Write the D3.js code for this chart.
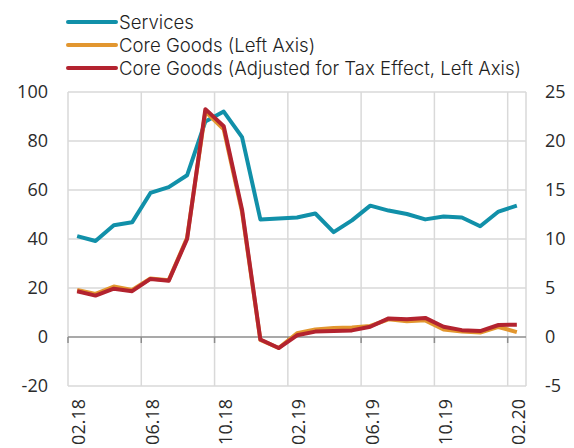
<!DOCTYPE html>
<html>
<head>
<meta charset="utf-8">
<script src="https://cdn.jsdelivr.net/npm/d3@7"></script>
<style>
  body { margin: 0; background: #fff; }
  svg text { font-family: "Open Sans", "Noto Sans", sans-serif; fill: #2b2b2b; }
  svg text.leg { font-family: Inter, Roboto, sans-serif; font-weight: 300; fill: #1f1f1f; }
</style>
</head>
<body>
<svg id="chart" width="574" height="448"></svg>
<script>
// monthly categories 02.18 .. 02.20
const months = ["02.18","03.18","04.18","05.18","06.18","07.18","08.18","09.18","10.18","11.18","12.18","01.19",
  "02.19","03.19","04.19","05.19","06.19","07.19","08.19","09.19","10.19","11.19","12.19","01.20","02.20"];
const tickMonths = ["02.18","06.18","10.18","02.19","06.19","10.19","02.20"];

// right axis
const services = [10.3, 9.8, 11.4, 11.7, 14.7, 15.3, 16.5, 22.0, 23.0, 20.4, 12.0, 12.1,
  12.2, 12.6, 10.7, 11.9, 13.4, 12.9, 12.55, 12.0, 12.3, 12.2, 11.3, 12.8, 13.4];
// left axis
const coreGoods = [19.2, 17.6, 20.6, 19.2, 23.9, 23.2, 40.5, 92.0, 84.8, 51.0, -1.2, -4.5,
  1.5, 3.1, 3.7, 3.9, 4.5, 7.2, 6.4, 6.8, 3.1, 2.2, 1.8, 4.1, 2.0];
const coreGoodsAdj = [18.7, 16.9, 19.7, 18.7, 23.7, 23.0, 40.0, 93.0, 86.0, 52.0, -1.0, -4.5,
  0.7, 2.2, 2.4, 2.7, 4.2, 7.6, 7.2, 7.8, 4.2, 2.8, 2.4, 4.9, 5.0];

const leftTicks = [-20, 0, 20, 40, 60, 80, 100];
const rightTicks = [-5, 0, 5, 10, 15, 20, 25];

const series = [
  { name: "Services", values: services, axis: "right", color: "#1190a9" },
  { name: "Core Goods (Left Axis)", values: coreGoods, axis: "left", color: "#e2962f" },
  { name: "Core Goods (Adjusted for Tax Effect, Left Axis)", values: coreGoodsAdj, axis: "left", color: "#b3232f" }
];

const svg = d3.select("#chart");
const plot = { left: 68, right: 526, top: 92, bottom: 386 };

const x = d3.scaleBand().domain(months).range([plot.left, plot.right]);
const yL = d3.scaleLinear().domain([-20, 100]).range([plot.bottom, plot.top]);
const yR = d3.scaleLinear().domain([-5, 25]).range([plot.bottom, plot.top]);

const grid = svg.append("g");

// horizontal gridlines
grid.selectAll("line.h").data(leftTicks.filter(d => d !== 0)).join("line")
  .attr("x1", plot.left).attr("x2", plot.right)
  .attr("y1", d => yL(d)).attr("y2", d => yL(d))
  .attr("stroke", "#d9d9d9").attr("stroke-width", 1.5);

// vertical gridlines at band boundaries every 4 months + right edge
const vIdx = [0, 4, 8, 12, 16, 20, 24];
const vx = vIdx.map(i => x(months[i])).concat([plot.right]);
grid.selectAll("line.v").data(vx).join("line")
  .attr("x1", d => d).attr("x2", d => d)
  .attr("y1", plot.top).attr("y2", plot.bottom)
  .attr("stroke", "#d9d9d9").attr("stroke-width", 1.5);

// zero axis with tick marks
grid.append("line")
  .attr("x1", plot.left).attr("x2", plot.right)
  .attr("y1", yL(0)).attr("y2", yL(0))
  .attr("stroke", "#8c8c8c").attr("stroke-width", 1.5);
grid.selectAll("line.t").data(vIdx.map(i => x(months[i]))).join("line")
  .attr("x1", d => d).attr("x2", d => d)
  .attr("y1", yL(0)).attr("y2", yL(0) + 6)
  .attr("stroke", "#8c8c8c").attr("stroke-width", 1.5);

// left axis labels
svg.append("g").selectAll("text").data(leftTicks).join("text")
  .attr("x", 48).attr("y", d => yL(d)).attr("dy", "0.35em")
  .attr("text-anchor", "end").attr("font-size", 18)
  .text(d => d);

// right axis labels
svg.append("g").selectAll("text").data(rightTicks).join("text")
  .attr("x", 545).attr("y", d => yR(d)).attr("dy", "0.35em")
  .attr("text-anchor", "start").attr("font-size", 18)
  .text(d => d);

// x labels, rotated
svg.append("g").selectAll("text").data(tickMonths).join("text")
  .attr("transform", d => `translate(${x(d) + x.bandwidth() / 2 + 2},399) rotate(-90)`)
  .attr("dy", "0.35em")
  .attr("text-anchor", "end").attr("font-size", 18)
  .text(d => d);

// lines
const lines = svg.append("g");
series.forEach(s => {
  const y = s.axis === "left" ? yL : yR;
  const line = d3.line()
    .x((d, i) => x(months[i]) + x.bandwidth() / 2)
    .y(d => y(d));
  lines.append("path")
    .datum(s.values)
    .attr("d", line)
    .attr("fill", "none")
    .attr("stroke", s.color)
    .attr("stroke-width", 4)
    .attr("stroke-linejoin", "round");
});

// legend
const legend = svg.append("g");
series.forEach((s, i) => {
  const ly = 22 + i * 23;
  legend.append("line")
    .attr("x1", 68).attr("x2", 116).attr("y1", ly).attr("y2", ly)
    .attr("stroke", s.color).attr("stroke-width", 4).attr("stroke-linecap", "round");
  legend.append("text")
    .attr("class", "leg")
    .attr("x", 119).attr("y", ly).attr("dy", "0.35em")
    .attr("font-size", 18.6)
    .text(s.name);
});
</script>
</body>
</html>
